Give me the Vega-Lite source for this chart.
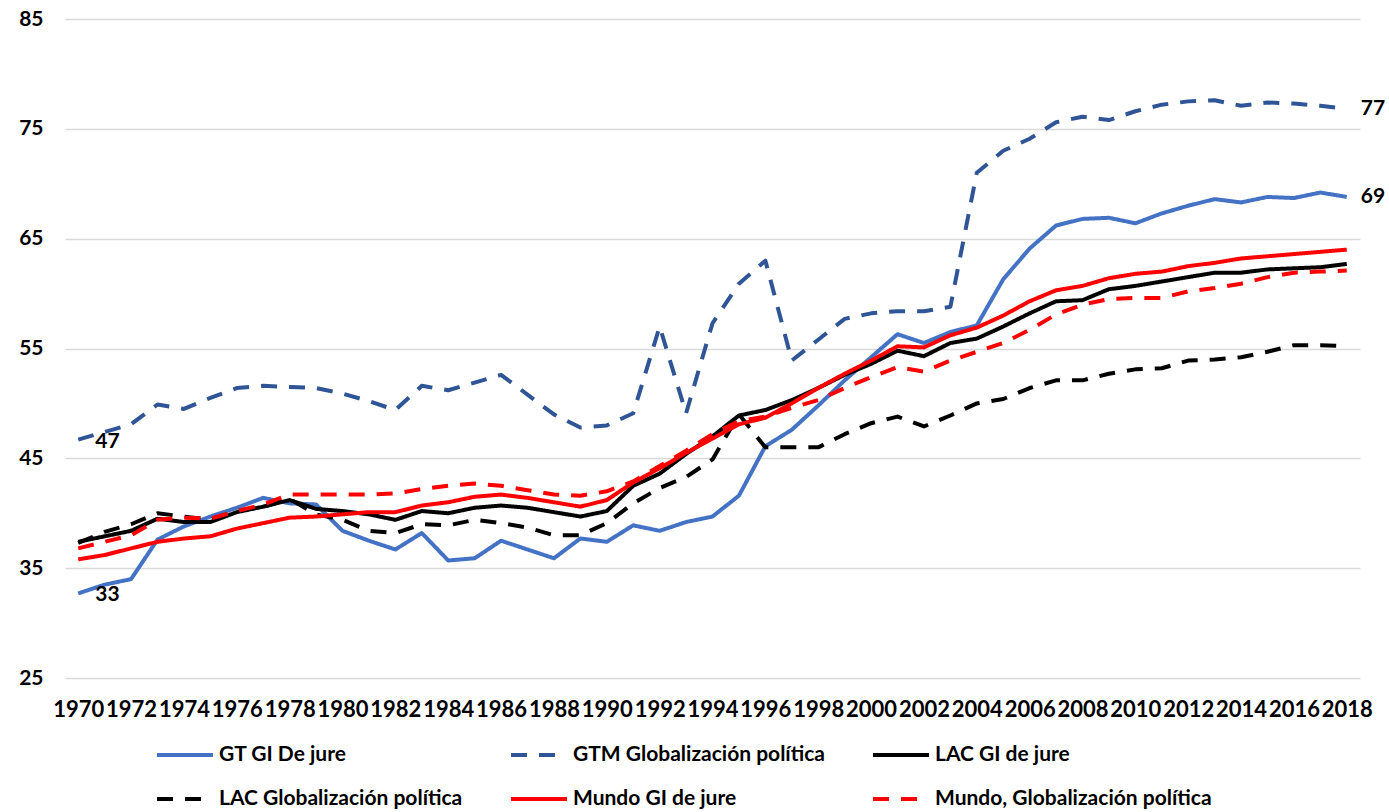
{
"$schema": "https://vega.github.io/schema/vega-lite/v6.json",
"width": 1295,
"height": 659,
"autosize": {"type": "none"},
"padding": {"left": 65, "top": 19, "right": 29, "bottom": 134},
"background": "white",
"config": {"view": {"stroke": null}, "font": "Lato"},
"datasets": {
"d": [
{"year":1970,"serie":"GT GI De jure","value":32.7},{"year":1971,"serie":"GT GI De jure","value":33.5},{"year":1972,"serie":"GT GI De jure","value":34.0},{"year":1973,"serie":"GT GI De jure","value":37.6},{"year":1974,"serie":"GT GI De jure","value":38.8},{"year":1975,"serie":"GT GI De jure","value":39.7},{"year":1976,"serie":"GT GI De jure","value":40.5},{"year":1977,"serie":"GT GI De jure","value":41.4},{"year":1978,"serie":"GT GI De jure","value":40.9},{"year":1979,"serie":"GT GI De jure","value":40.8},{"year":1980,"serie":"GT GI De jure","value":38.4},{"year":1981,"serie":"GT GI De jure","value":37.5},{"year":1982,"serie":"GT GI De jure","value":36.7},{"year":1983,"serie":"GT GI De jure","value":38.2},{"year":1984,"serie":"GT GI De jure","value":35.7},{"year":1985,"serie":"GT GI De jure","value":35.9},{"year":1986,"serie":"GT GI De jure","value":37.5},{"year":1987,"serie":"GT GI De jure","value":36.7},{"year":1988,"serie":"GT GI De jure","value":35.9},{"year":1989,"serie":"GT GI De jure","value":37.7},{"year":1990,"serie":"GT GI De jure","value":37.4},{"year":1991,"serie":"GT GI De jure","value":38.9},{"year":1992,"serie":"GT GI De jure","value":38.4},{"year":1993,"serie":"GT GI De jure","value":39.2},{"year":1994,"serie":"GT GI De jure","value":39.7},{"year":1995,"serie":"GT GI De jure","value":41.6},{"year":1996,"serie":"GT GI De jure","value":46.1},{"year":1997,"serie":"GT GI De jure","value":47.6},{"year":1998,"serie":"GT GI De jure","value":49.8},{"year":1999,"serie":"GT GI De jure","value":52.1},{"year":2000,"serie":"GT GI De jure","value":54.2},{"year":2001,"serie":"GT GI De jure","value":56.3},{"year":2002,"serie":"GT GI De jure","value":55.5},{"year":2003,"serie":"GT GI De jure","value":56.5},{"year":2004,"serie":"GT GI De jure","value":57.1},{"year":2005,"serie":"GT GI De jure","value":61.3},{"year":2006,"serie":"GT GI De jure","value":64.1},{"year":2007,"serie":"GT GI De jure","value":66.2},{"year":2008,"serie":"GT GI De jure","value":66.8},{"year":2009,"serie":"GT GI De jure","value":66.9},{"year":2010,"serie":"GT GI De jure","value":66.4},{"year":2011,"serie":"GT GI De jure","value":67.3},{"year":2012,"serie":"GT GI De jure","value":68.0},{"year":2013,"serie":"GT GI De jure","value":68.6},{"year":2014,"serie":"GT GI De jure","value":68.3},{"year":2015,"serie":"GT GI De jure","value":68.8},{"year":2016,"serie":"GT GI De jure","value":68.7},{"year":2017,"serie":"GT GI De jure","value":69.2},{"year":2018,"serie":"GT GI De jure","value":68.8},
{"year":1970,"serie":"GTM Globalización política","value":46.7},{"year":1971,"serie":"GTM Globalización política","value":47.4},{"year":1972,"serie":"GTM Globalización política","value":48.1},{"year":1973,"serie":"GTM Globalización política","value":49.9},{"year":1974,"serie":"GTM Globalización política","value":49.5},{"year":1975,"serie":"GTM Globalización política","value":50.5},{"year":1976,"serie":"GTM Globalización política","value":51.4},{"year":1977,"serie":"GTM Globalización política","value":51.6},{"year":1978,"serie":"GTM Globalización política","value":51.5},{"year":1979,"serie":"GTM Globalización política","value":51.4},{"year":1980,"serie":"GTM Globalización política","value":50.9},{"year":1981,"serie":"GTM Globalización política","value":50.2},{"year":1982,"serie":"GTM Globalización política","value":49.4},{"year":1983,"serie":"GTM Globalización política","value":51.6},{"year":1984,"serie":"GTM Globalización política","value":51.2},{"year":1985,"serie":"GTM Globalización política","value":51.9},{"year":1986,"serie":"GTM Globalización política","value":52.6},{"year":1987,"serie":"GTM Globalización política","value":50.8},{"year":1988,"serie":"GTM Globalización política","value":49.0},{"year":1989,"serie":"GTM Globalización política","value":47.8},{"year":1990,"serie":"GTM Globalización política","value":48.0},{"year":1991,"serie":"GTM Globalización política","value":49.1},{"year":1992,"serie":"GTM Globalización política","value":57.0},{"year":1993,"serie":"GTM Globalización política","value":49.1},{"year":1994,"serie":"GTM Globalización política","value":57.3},{"year":1995,"serie":"GTM Globalización política","value":60.9},{"year":1996,"serie":"GTM Globalización política","value":63.0},{"year":1997,"serie":"GTM Globalización política","value":53.9},{"year":1998,"serie":"GTM Globalización política","value":55.8},{"year":1999,"serie":"GTM Globalización política","value":57.7},{"year":2000,"serie":"GTM Globalización política","value":58.2},{"year":2001,"serie":"GTM Globalización política","value":58.4},{"year":2002,"serie":"GTM Globalización política","value":58.4},{"year":2003,"serie":"GTM Globalización política","value":58.8},{"year":2004,"serie":"GTM Globalización política","value":71.0},{"year":2005,"serie":"GTM Globalización política","value":73.0},{"year":2006,"serie":"GTM Globalización política","value":74.1},{"year":2007,"serie":"GTM Globalización política","value":75.6},{"year":2008,"serie":"GTM Globalización política","value":76.1},{"year":2009,"serie":"GTM Globalización política","value":75.8},{"year":2010,"serie":"GTM Globalización política","value":76.6},{"year":2011,"serie":"GTM Globalización política","value":77.2},{"year":2012,"serie":"GTM Globalización política","value":77.5},{"year":2013,"serie":"GTM Globalización política","value":77.6},{"year":2014,"serie":"GTM Globalización política","value":77.1},{"year":2015,"serie":"GTM Globalización política","value":77.4},{"year":2016,"serie":"GTM Globalización política","value":77.3},{"year":2017,"serie":"GTM Globalización política","value":77.1},{"year":2018,"serie":"GTM Globalización política","value":76.8},
{"year":1970,"serie":"LAC GI de jure","value":37.4},{"year":1971,"serie":"LAC GI de jure","value":37.9},{"year":1972,"serie":"LAC GI de jure","value":38.4},{"year":1973,"serie":"LAC GI de jure","value":39.5},{"year":1974,"serie":"LAC GI de jure","value":39.2},{"year":1975,"serie":"LAC GI de jure","value":39.2},{"year":1976,"serie":"LAC GI de jure","value":40.1},{"year":1977,"serie":"LAC GI de jure","value":40.6},{"year":1978,"serie":"LAC GI de jure","value":41.2},{"year":1979,"serie":"LAC GI de jure","value":40.4},{"year":1980,"serie":"LAC GI de jure","value":40.2},{"year":1981,"serie":"LAC GI de jure","value":39.9},{"year":1982,"serie":"LAC GI de jure","value":39.4},{"year":1983,"serie":"LAC GI de jure","value":40.2},{"year":1984,"serie":"LAC GI de jure","value":40.0},{"year":1985,"serie":"LAC GI de jure","value":40.5},{"year":1986,"serie":"LAC GI de jure","value":40.7},{"year":1987,"serie":"LAC GI de jure","value":40.5},{"year":1988,"serie":"LAC GI de jure","value":40.1},{"year":1989,"serie":"LAC GI de jure","value":39.7},{"year":1990,"serie":"LAC GI de jure","value":40.2},{"year":1991,"serie":"LAC GI de jure","value":42.5},{"year":1992,"serie":"LAC GI de jure","value":43.6},{"year":1993,"serie":"LAC GI de jure","value":45.4},{"year":1994,"serie":"LAC GI de jure","value":47.0},{"year":1995,"serie":"LAC GI de jure","value":48.9},{"year":1996,"serie":"LAC GI de jure","value":49.4},{"year":1997,"serie":"LAC GI de jure","value":50.3},{"year":1998,"serie":"LAC GI de jure","value":51.4},{"year":1999,"serie":"LAC GI de jure","value":52.6},{"year":2000,"serie":"LAC GI de jure","value":53.6},{"year":2001,"serie":"LAC GI de jure","value":54.8},{"year":2002,"serie":"LAC GI de jure","value":54.3},{"year":2003,"serie":"LAC GI de jure","value":55.5},{"year":2004,"serie":"LAC GI de jure","value":55.9},{"year":2005,"serie":"LAC GI de jure","value":57.0},{"year":2006,"serie":"LAC GI de jure","value":58.2},{"year":2007,"serie":"LAC GI de jure","value":59.3},{"year":2008,"serie":"LAC GI de jure","value":59.4},{"year":2009,"serie":"LAC GI de jure","value":60.4},{"year":2010,"serie":"LAC GI de jure","value":60.7},{"year":2011,"serie":"LAC GI de jure","value":61.1},{"year":2012,"serie":"LAC GI de jure","value":61.5},{"year":2013,"serie":"LAC GI de jure","value":61.9},{"year":2014,"serie":"LAC GI de jure","value":61.9},{"year":2015,"serie":"LAC GI de jure","value":62.2},{"year":2016,"serie":"LAC GI de jure","value":62.3},{"year":2017,"serie":"LAC GI de jure","value":62.4},{"year":2018,"serie":"LAC GI de jure","value":62.7},
{"year":1970,"serie":"LAC Globalización política","value":37.3},{"year":1971,"serie":"LAC Globalización política","value":38.3},{"year":1972,"serie":"LAC Globalización política","value":39.0},{"year":1973,"serie":"LAC Globalización política","value":40.0},{"year":1974,"serie":"LAC Globalización política","value":39.7},{"year":1975,"serie":"LAC Globalización política","value":39.4},{"year":1976,"serie":"LAC Globalización política","value":40.2},{"year":1977,"serie":"LAC Globalización política","value":40.6},{"year":1978,"serie":"LAC Globalización política","value":41.3},{"year":1979,"serie":"LAC Globalización política","value":39.9},{"year":1980,"serie":"LAC Globalización política","value":39.4},{"year":1981,"serie":"LAC Globalización política","value":38.4},{"year":1982,"serie":"LAC Globalización política","value":38.2},{"year":1983,"serie":"LAC Globalización política","value":39.0},{"year":1984,"serie":"LAC Globalización política","value":38.9},{"year":1985,"serie":"LAC Globalización política","value":39.4},{"year":1986,"serie":"LAC Globalización política","value":39.1},{"year":1987,"serie":"LAC Globalización política","value":38.7},{"year":1988,"serie":"LAC Globalización política","value":38.0},{"year":1989,"serie":"LAC Globalización política","value":38.0},{"year":1990,"serie":"LAC Globalización política","value":39.1},{"year":1991,"serie":"LAC Globalización política","value":40.9},{"year":1992,"serie":"LAC Globalización política","value":42.3},{"year":1993,"serie":"LAC Globalización política","value":43.3},{"year":1994,"serie":"LAC Globalización política","value":44.9},{"year":1995,"serie":"LAC Globalización política","value":49.0},{"year":1996,"serie":"LAC Globalización política","value":46.0},{"year":1997,"serie":"LAC Globalización política","value":46.0},{"year":1998,"serie":"LAC Globalización política","value":46.0},{"year":1999,"serie":"LAC Globalización política","value":47.2},{"year":2000,"serie":"LAC Globalización política","value":48.2},{"year":2001,"serie":"LAC Globalización política","value":48.8},{"year":2002,"serie":"LAC Globalización política","value":47.9},{"year":2003,"serie":"LAC Globalización política","value":48.9},{"year":2004,"serie":"LAC Globalización política","value":50.0},{"year":2005,"serie":"LAC Globalización política","value":50.4},{"year":2006,"serie":"LAC Globalización política","value":51.4},{"year":2007,"serie":"LAC Globalización política","value":52.1},{"year":2008,"serie":"LAC Globalización política","value":52.1},{"year":2009,"serie":"LAC Globalización política","value":52.7},{"year":2010,"serie":"LAC Globalización política","value":53.1},{"year":2011,"serie":"LAC Globalización política","value":53.2},{"year":2012,"serie":"LAC Globalización política","value":53.9},{"year":2013,"serie":"LAC Globalización política","value":54.0},{"year":2014,"serie":"LAC Globalización política","value":54.2},{"year":2015,"serie":"LAC Globalización política","value":54.7},{"year":2016,"serie":"LAC Globalización política","value":55.3},{"year":2017,"serie":"LAC Globalización política","value":55.3},{"year":2018,"serie":"LAC Globalización política","value":55.2},
{"year":1970,"serie":"Mundo GI de jure","value":35.8},{"year":1971,"serie":"Mundo GI de jure","value":36.2},{"year":1972,"serie":"Mundo GI de jure","value":36.8},{"year":1973,"serie":"Mundo GI de jure","value":37.4},{"year":1974,"serie":"Mundo GI de jure","value":37.7},{"year":1975,"serie":"Mundo GI de jure","value":37.9},{"year":1976,"serie":"Mundo GI de jure","value":38.6},{"year":1977,"serie":"Mundo GI de jure","value":39.1},{"year":1978,"serie":"Mundo GI de jure","value":39.6},{"year":1979,"serie":"Mundo GI de jure","value":39.7},{"year":1980,"serie":"Mundo GI de jure","value":39.9},{"year":1981,"serie":"Mundo GI de jure","value":40.1},{"year":1982,"serie":"Mundo GI de jure","value":40.1},{"year":1983,"serie":"Mundo GI de jure","value":40.7},{"year":1984,"serie":"Mundo GI de jure","value":41.0},{"year":1985,"serie":"Mundo GI de jure","value":41.5},{"year":1986,"serie":"Mundo GI de jure","value":41.7},{"year":1987,"serie":"Mundo GI de jure","value":41.4},{"year":1988,"serie":"Mundo GI de jure","value":41.0},{"year":1989,"serie":"Mundo GI de jure","value":40.6},{"year":1990,"serie":"Mundo GI de jure","value":41.2},{"year":1991,"serie":"Mundo GI de jure","value":42.8},{"year":1992,"serie":"Mundo GI de jure","value":44.1},{"year":1993,"serie":"Mundo GI de jure","value":45.5},{"year":1994,"serie":"Mundo GI de jure","value":46.8},{"year":1995,"serie":"Mundo GI de jure","value":48.1},{"year":1996,"serie":"Mundo GI de jure","value":48.7},{"year":1997,"serie":"Mundo GI de jure","value":50.0},{"year":1998,"serie":"Mundo GI de jure","value":51.4},{"year":1999,"serie":"Mundo GI de jure","value":52.7},{"year":2000,"serie":"Mundo GI de jure","value":53.9},{"year":2001,"serie":"Mundo GI de jure","value":55.2},{"year":2002,"serie":"Mundo GI de jure","value":55.1},{"year":2003,"serie":"Mundo GI de jure","value":56.2},{"year":2004,"serie":"Mundo GI de jure","value":56.9},{"year":2005,"serie":"Mundo GI de jure","value":58.0},{"year":2006,"serie":"Mundo GI de jure","value":59.3},{"year":2007,"serie":"Mundo GI de jure","value":60.3},{"year":2008,"serie":"Mundo GI de jure","value":60.7},{"year":2009,"serie":"Mundo GI de jure","value":61.4},{"year":2010,"serie":"Mundo GI de jure","value":61.8},{"year":2011,"serie":"Mundo GI de jure","value":62.0},{"year":2012,"serie":"Mundo GI de jure","value":62.5},{"year":2013,"serie":"Mundo GI de jure","value":62.8},{"year":2014,"serie":"Mundo GI de jure","value":63.2},{"year":2015,"serie":"Mundo GI de jure","value":63.4},{"year":2016,"serie":"Mundo GI de jure","value":63.6},{"year":2017,"serie":"Mundo GI de jure","value":63.8},{"year":2018,"serie":"Mundo GI de jure","value":64.0},
{"year":1970,"serie":"Mundo, Globalización política","value":36.8},{"year":1971,"serie":"Mundo, Globalización política","value":37.4},{"year":1972,"serie":"Mundo, Globalización política","value":38.0},{"year":1973,"serie":"Mundo, Globalización política","value":39.4},{"year":1974,"serie":"Mundo, Globalización política","value":39.6},{"year":1975,"serie":"Mundo, Globalización política","value":39.5},{"year":1976,"serie":"Mundo, Globalización política","value":40.2},{"year":1977,"serie":"Mundo, Globalización política","value":40.8},{"year":1978,"serie":"Mundo, Globalización política","value":41.7},{"year":1979,"serie":"Mundo, Globalización política","value":41.7},{"year":1980,"serie":"Mundo, Globalización política","value":41.7},{"year":1981,"serie":"Mundo, Globalización política","value":41.7},{"year":1982,"serie":"Mundo, Globalización política","value":41.8},{"year":1983,"serie":"Mundo, Globalización política","value":42.2},{"year":1984,"serie":"Mundo, Globalización política","value":42.5},{"year":1985,"serie":"Mundo, Globalización política","value":42.7},{"year":1986,"serie":"Mundo, Globalización política","value":42.5},{"year":1987,"serie":"Mundo, Globalización política","value":42.1},{"year":1988,"serie":"Mundo, Globalización política","value":41.7},{"year":1989,"serie":"Mundo, Globalización política","value":41.6},{"year":1990,"serie":"Mundo, Globalización política","value":42.0},{"year":1991,"serie":"Mundo, Globalización política","value":42.9},{"year":1992,"serie":"Mundo, Globalización política","value":44.3},{"year":1993,"serie":"Mundo, Globalización política","value":45.7},{"year":1994,"serie":"Mundo, Globalización política","value":47.2},{"year":1995,"serie":"Mundo, Globalización política","value":48.4},{"year":1996,"serie":"Mundo, Globalización política","value":48.8},{"year":1997,"serie":"Mundo, Globalización política","value":49.6},{"year":1998,"serie":"Mundo, Globalización política","value":50.3},{"year":1999,"serie":"Mundo, Globalización política","value":51.4},{"year":2000,"serie":"Mundo, Globalización política","value":52.4},{"year":2001,"serie":"Mundo, Globalización política","value":53.3},{"year":2002,"serie":"Mundo, Globalización política","value":52.9},{"year":2003,"serie":"Mundo, Globalización política","value":53.9},{"year":2004,"serie":"Mundo, Globalización política","value":54.7},{"year":2005,"serie":"Mundo, Globalización política","value":55.5},{"year":2006,"serie":"Mundo, Globalización política","value":56.7},{"year":2007,"serie":"Mundo, Globalización política","value":58.1},{"year":2008,"serie":"Mundo, Globalización política","value":59.0},{"year":2009,"serie":"Mundo, Globalización política","value":59.5},{"year":2010,"serie":"Mundo, Globalización política","value":59.6},{"year":2011,"serie":"Mundo, Globalización política","value":59.6},{"year":2012,"serie":"Mundo, Globalización política","value":60.2},{"year":2013,"serie":"Mundo, Globalización política","value":60.5},{"year":2014,"serie":"Mundo, Globalización política","value":60.9},{"year":2015,"serie":"Mundo, Globalización política","value":61.5},{"year":2016,"serie":"Mundo, Globalización política","value":61.9},{"year":2017,"serie":"Mundo, Globalización política","value":62.0},{"year":2018,"serie":"Mundo, Globalización política","value":62.1}
]
},
"data": {"name": "d"},
"encoding": {
  "x": {"field": "year", "type": "ordinal", "scale": {"type": "point", "padding": 0.5},
    "axis": {"title": null, "values": [1970,1972,1974,1976,1978,1980,1982,1984,1986,1988,1990,1992,1994,1996,1998,2000,2002,2004,2006,2008,2010,2012,2014,2016,2018],
      "labelAngle": 0, "labelOverlap": false, "ticks": false, "tickSize": 0, "domain": false, "grid": false,
      "labelPadding": 21, "labelFont": "Lato", "labelFontSize": 22, "labelFontWeight": "bold", "labelColor": "#000000"}},
  "y": {"field": "value", "type": "quantitative", "scale": {"domain": [25, 85], "nice": false, "zero": false},
    "axis": {"title": null, "values": [25,35,45,55,65,75,85], "ticks": false, "tickSize": 0, "domain": false,
      "grid": true, "gridColor": "#D9D9D9", "gridWidth": 1.5,
      "labelPadding": 22, "labelFont": "Lato", "labelFontSize": 21, "labelFontWeight": "bold", "labelColor": "#000000"}}
},
"layer": [
  {
    "mark": {"type": "line", "strokeWidth": 4, "strokeCap": "butt", "strokeJoin": "round"},
    "encoding": {
      "color": {"field": "serie", "type": "nominal",
        "scale": {"domain": ["GT GI De jure","GTM Globalización política","LAC GI de jure","LAC Globalización política","Mundo GI de jure","Mundo, Globalización política"],
                  "range": ["#4472C4","#2F5597","#000000","#000000","#FF0000","#FF0000"]},
        "legend": {"title": null, "orient": "none", "legendX": 90, "legendY": 706, "columns": 3, "direction": "horizontal",
          "symbolType": "stroke", "symbolSize": 3136, "symbolStrokeWidth": 4, "labelFont": "Lato", "labelFontSize": 21,
          "labelFontWeight": "bold", "labelColor": "#000000", "labelOffset": 4, "columnPadding": 40, "rowPadding": 4, "labelLimit": 400, "padding": 0}},
      "strokeDash": {"field": "serie", "type": "nominal",
        "scale": {"domain": ["GT GI De jure","GTM Globalización política","LAC GI de jure","LAC Globalización política","Mundo GI de jure","Mundo, Globalización política"],
                  "range": [[1,0],[16,12],[1,0],[16,12],[1,0],[16,12]]},
        "legend": {"title": null, "orient": "none", "legendX": 90, "legendY": 706, "columns": 3, "direction": "horizontal",
          "symbolType": "stroke", "symbolSize": 3136, "symbolStrokeWidth": 4, "labelFont": "Lato", "labelFontSize": 21,
          "labelFontWeight": "bold", "labelColor": "#000000", "labelOffset": 4, "columnPadding": 40, "rowPadding": 4, "labelLimit": 400, "padding": 0}}
    }
  },
  {
    "transform": [{"filter": "datum.year == 1970 && (datum.serie == 'GT GI De jure' || datum.serie == 'GTM Globalización política')"}],
    "mark": {"type": "text", "align": "left", "baseline": "middle", "dx": 17, "dy": 2, "font": "Lato", "fontSize": 21, "fontWeight": "bold", "color": "#000000"},
    "encoding": {"text": {"field": "value", "type": "quantitative", "format": ".0f"}}
  },
  {
    "transform": [{"filter": "datum.year == 2018 && (datum.serie == 'GT GI De jure' || datum.serie == 'GTM Globalización política')"}],
    "mark": {"type": "text", "align": "left", "baseline": "middle", "dx": 14, "font": "Lato", "fontSize": 21, "fontWeight": "bold", "color": "#000000"},
    "encoding": {"text": {"field": "value", "type": "quantitative", "format": ".0f"}}
  }
]
}
